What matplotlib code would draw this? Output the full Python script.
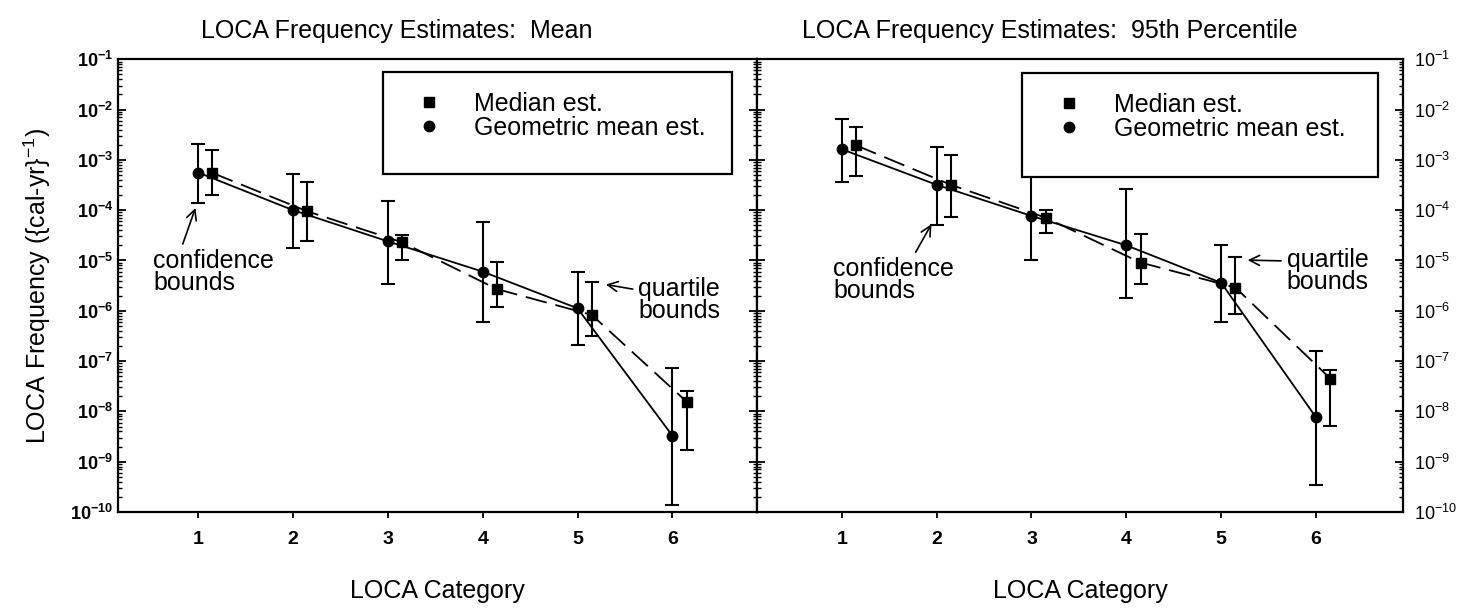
import matplotlib
matplotlib.use("Agg")
import matplotlib.pyplot as plt
from matplotlib.lines import Line2D
from matplotlib.patches import Rectangle
from matplotlib.ticker import LogLocator, NullFormatter

plt.rcParams['font.family'] = ['Liberation Sans', 'DejaVu Sans']
plt.rcParams['mathtext.fontset'] = 'custom'
plt.rcParams['mathtext.rm'] = 'Liberation Sans'
plt.rcParams['mathtext.it'] = 'Liberation Sans:italic'
plt.rcParams['mathtext.bf'] = 'Liberation Sans:bold'

### LOCA categories, medians are drawn slightly to the right
categories = [1, 2, 3, 4, 5, 6]
med_shift = 0.15

### mean frequency estimates
mean_geo = [5.6e-4, 1.0e-4, 2.4e-5, 6.0e-6, 1.12e-6, 3.3e-9]
mean_geo_lo = [1.4e-4, 1.75e-5, 3.4e-6, 5.9e-7, 2.1e-7, 1.4e-10]
mean_geo_hi = [2.1e-3, 5.2e-4, 1.55e-4, 5.9e-5, 6.0e-6, 7.2e-8]
mean_med = [5.5e-4, 9.5e-5, 2.3e-5, 2.7e-6, 8.3e-7, 1.56e-8]
mean_med_lo = [2.0e-4, 2.4e-5, 1.0e-5, 1.2e-6, 3.2e-7, 1.7e-9]
mean_med_hi = [1.6e-3, 3.7e-4, 3.2e-5, 9.2e-6, 3.8e-6, 2.5e-8]

### 95th percentile frequency estimates
p95_geo = [1.63e-3, 3.2e-4, 7.7e-5, 2.0e-5, 3.6e-6, 7.6e-9]
p95_geo_lo = [3.6e-4, 5.1e-5, 1.02e-5, 1.8e-6, 6.1e-7, 3.4e-10]
p95_geo_hi = [6.5e-3, 1.83e-3, 2.0e-3, 2.6e-4, 2.0e-5, 1.6e-7]
p95_med = [1.95e-3, 3.2e-4, 7.1e-5, 9.1e-6, 2.9e-6, 4.5e-8]
p95_med_lo = [4.8e-4, 7.4e-5, 3.6e-5, 3.4e-6, 8.5e-7, 5.1e-9]
p95_med_hi = [4.45e-3, 1.25e-3, 1.0e-4, 3.3e-5, 1.2e-5, 6.7e-8]

titles = ["LOCA Frequency Estimates:  Mean",
          "LOCA Frequency Estimates:  95th Percentile"]
legend_labels = ["Median est.", "Geometric mean est."]


def bars(vals, lo, hi):
    return [[v - l for v, l in zip(vals, lo)], [h - v for v, h in zip(vals, hi)]]


def draw_panel(ax, geo, geo_lo, geo_hi, med, med_lo, med_hi):
    x_med = [c + med_shift for c in categories]
    ebkw = dict(color="black", elinewidth=1.5, capsize=5, capthick=1.5)
    ax.errorbar(categories, geo, yerr=bars(geo, geo_lo, geo_hi), fmt="o",
                ls="-", lw=1.3, ms=7.5, **ebkw)
    ax.errorbar(x_med, med, yerr=bars(med, med_lo, med_hi), fmt="s",
                ls=(0, (12, 5)), lw=1.3, ms=6.5, **ebkw)

    ax.set_yscale("log")
    ax.set_ylim(1e-10, 1e-1)
    ax.yaxis.set_major_locator(LogLocator(base=10, numticks=20))
    ax.yaxis.set_minor_locator(LogLocator(base=10, subs=range(2, 10), numticks=20))
    ax.yaxis.set_minor_formatter(NullFormatter())
    ax.tick_params(axis="y", which="major", direction="in", length=6, width=1.3,
                   left=True, right=True, labelsize=13)
    ax.tick_params(axis="y", which="minor", direction="in", length=3, width=1,
                   left=True, right=True)
    ax.set_xticks(categories)
    ax.tick_params(axis="x", direction="out", length=4, width=1.3, labelsize=14, pad=10)
    for lab in ax.get_xticklabels() + ax.get_yticklabels():
        lab.set_fontweight("bold")
    for sp in ax.spines.values():
        sp.set_linewidth(1.6)
    ax.set_xlabel("LOCA Category", fontsize=18, labelpad=22)


def draw_legend(ax, x0, y0, w, h, dx, dy):
    ax.add_patch(Rectangle((x0, y0), w, h, transform=ax.transAxes, facecolor="white",
                           edgecolor="black", lw=1.6, zorder=5))
    handles = [Line2D([], [], ls="none", marker="s", ms=6.5, color="black"),
               Line2D([], [], ls="none", marker="o", ms=7.5, color="black")]
    leg = ax.legend(handles, legend_labels, loc="upper left",
                    bbox_to_anchor=(x0 + dx, y0 + h - dy),
                    frameon=False, fontsize=18, borderaxespad=0, borderpad=0.55,
                    handlelength=1.9, handletextpad=0.85, labelspacing=0.0)
    leg.set_zorder(6)


fig = plt.figure(figsize=(14.6, 6.08), dpi=100)
ax1 = fig.add_axes([0.0808, 0.1579, 0.4375, 0.7446])
ax2 = fig.add_axes([0.5183, 0.1579, 0.4429, 0.7446])

draw_panel(ax1, mean_geo, mean_geo_lo, mean_geo_hi, mean_med, mean_med_lo, mean_med_hi)
draw_panel(ax2, p95_geo, p95_geo_lo, p95_geo_hi, p95_med, p95_med_lo, p95_med_hi)

ax1.set_xlim(0.153, 6.89)
ax2.set_xlim(0.104, 6.92)
ax1.tick_params(axis="y", labelleft=True, labelright=False)
ax2.tick_params(axis="y", labelleft=False, labelright=True, pad=8)
ax1.set_ylabel(r"LOCA Frequency ({cal-yr}$^{-1}$)", fontsize=18, labelpad=12)

ax1.set_title(titles[0], fontsize=18, pad=15, x=0.436)
ax2.set_title(titles[1], fontsize=18, pad=15, x=0.454)

draw_legend(ax1, 0.415, 0.747, 0.546, 0.224, 0.014, 0.013)
draw_legend(ax2, 0.411, 0.741, 0.550, 0.228, 0.014, 0.013)

### arrows pointing at the confidence and quartile bounds
akw = dict(fontsize=18, linespacing=0.85, va="center", ha="left",
           textcoords="data")
ax1.annotate("confidence\nbounds", xy=(0.98, 1.25e-4), xytext=(0.523, 5.9e-6),
             arrowprops=dict(arrowstyle="->", lw=1.2, color="black", relpos=(0.23, 1.0)),
             **akw)
ax1.annotate("quartile\nbounds", xy=(5.27, 3.4e-6), xytext=(5.64, 1.64e-6),
             arrowprops=dict(arrowstyle="->", lw=1.2, color="black", relpos=(0.0, 0.72)),
             **akw)
ax2.annotate("confidence\nbounds", xy=(1.96, 5.9e-5), xytext=(0.908, 4.1e-6),
             arrowprops=dict(arrowstyle="->", lw=1.2, color="black", relpos=(0.66, 1.0)),
             **akw)
ax2.annotate("quartile\nbounds", xy=(5.25, 1.02e-5), xytext=(5.69, 6.2e-6),
             arrowprops=dict(arrowstyle="->", lw=1.2, color="black", relpos=(0.0, 0.72)),
             **akw)

fig.savefig("out.png", dpi=100)
